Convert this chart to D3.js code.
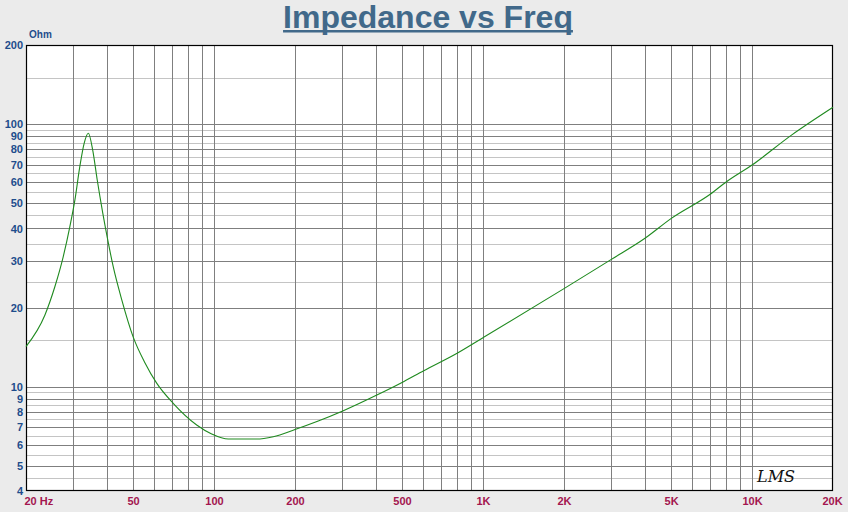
<!DOCTYPE html>
<html><head><meta charset="utf-8">
<script src="https://cdn.jsdelivr.net/npm/d3@7"></script>
<style>
html,body{margin:0;padding:0;background:#ebebeb;}
svg{display:block;}
</style></head>
<body>
<svg id="chart" width="848" height="512"></svg>
<script>
// Data
const freqHz = [20, 23.5, 25.6, 27.5, 29.1, 30.4, 31.7, 32.9, 34.1, 35.4, 36.8, 38.6, 40.5, 42.2, 45.4, 50, 55.4, 61.2, 70.5, 86.2, 98, 113, 144, 166, 200, 244, 301, 403, 498, 602, 801, 1000, 2000, 3000, 4000, 5012, 6990, 8036, 10000, 14060, 20000];
const impedanceOhm = [14.2, 18.7, 24.0, 31.2, 40.6, 51.4, 68.8, 84.4, 92.2, 79.6, 61.2, 45.7, 35.1, 28.6, 21.4, 15.5, 12.3, 10.3, 8.63, 7.14, 6.6, 6.31, 6.31, 6.44, 6.86, 7.39, 8.07, 9.28, 10.34, 11.49, 13.39, 15.35, 23.6, 30.5, 36.7, 43.7, 54.0, 60.3, 69.8, 90.9, 115.8];
const yTickValues = [4, 5, 6, 7, 8, 9, 10, 20, 30, 40, 50, 60, 70, 80, 90, 100, 200];
const yMinorGrid = [4.5, 5.5, 6.5, 7.5, 8.5, 9.5, 15, 25, 35, 45, 55, 65, 75, 85, 95, 150];
const xGridValues = [30, 40, 50, 60, 70, 80, 90, 100, 200, 300, 400, 500, 600, 700, 800, 900, 1000, 2000, 3000, 4000, 5000, 6000, 7000, 8000, 9000, 10000];
const xTickValues = [20, 50, 100, 200, 500, 1000, 2000, 5000, 10000, 20000];
const xTickLabels = ["20 Hz", "50", "100", "200", "500", "1K", "2K", "5K", "10K", "20K"];

const svg = d3.select("#chart");
const L = 26, R = 833, T = 45, B = 491;
const x = d3.scaleLog().domain([20, 20000]).range([L, R]);
const y = d3.scaleLog().domain([4, 200]).range([B, T]);

svg.append("rect").attr("x", L).attr("y", T).attr("width", R - L).attr("height", B - T).attr("fill", "#ffffff");

// minor horizontal grid
svg.append("g").selectAll("line").data(yMinorGrid).join("line")
  .attr("x1", L).attr("x2", R)
  .attr("y1", d => Math.round(y(d)) + 0.5).attr("y2", d => Math.round(y(d)) + 0.5)
  .attr("stroke", "#c4c4c4").attr("stroke-width", 1);
// major horizontal grid
svg.append("g").selectAll("line").data(yTickValues.filter(d => d > 4 && d < 200)).join("line")
  .attr("x1", L).attr("x2", R)
  .attr("y1", d => Math.round(y(d)) + 0.5).attr("y2", d => Math.round(y(d)) + 0.5)
  .attr("stroke", "#7f7f7f").attr("stroke-width", 1);
// vertical grid
svg.append("g").selectAll("line").data(xGridValues).join("line")
  .attr("y1", T).attr("y2", B)
  .attr("x1", d => Math.round(x(d)) + 0.5).attr("x2", d => Math.round(x(d)) + 0.5)
  .attr("stroke", "#7f7f7f").attr("stroke-width", 1);

// border
svg.append("rect").attr("x", L + 0.5).attr("y", T + 0.5).attr("width", R - L - 1).attr("height", B - T - 1)
  .attr("fill", "none").attr("stroke", "#000").attr("stroke-width", 1.2);

// curve
const line = d3.line().x((d, i) => x(freqHz[i])).y(d => y(d)).curve(d3.curveMonotoneX);
svg.append("path").datum(impedanceOhm).attr("d", line)
  .attr("fill", "none").attr("stroke", "#1f8a1f").attr("stroke-width", 1.1);

// y axis labels
const yAxis = d3.axisLeft(y).tickValues(yTickValues).tickFormat(d3.format("d")).tickSize(0).tickPadding(3);
const gy = svg.append("g").attr("transform", `translate(${L},0)`).call(yAxis);
gy.select(".domain").remove();
gy.selectAll("text").attr("fill", "#1e4d8c").attr("font-family", "Liberation Sans, Arial, sans-serif")
  .attr("font-weight", "bold").attr("font-size", 11);

svg.append("text").attr("x", 29).attr("y", 38).text("Ohm")
  .attr("fill", "#1e4d8c").attr("font-family", "Liberation Sans, Arial, sans-serif")
  .attr("font-weight", "bold").attr("font-size", 10);

// x axis labels
const xAxis = d3.axisBottom(x).tickValues(xTickValues).tickFormat((d, i) => xTickLabels[i]).tickSize(0).tickPadding(6);
const gx = svg.append("g").attr("transform", `translate(0,${B})`).call(xAxis);
gx.select(".domain").remove();
gx.selectAll("text").attr("fill", "#a3164f").attr("font-family", "Liberation Sans, Arial, sans-serif")
  .attr("font-weight", "bold").attr("font-size", 11)
  .attr("text-anchor", (d, i) => i === 0 ? "start" : "middle")
  .attr("dx", (d, i) => i === 0 ? -2 : (i === xTickValues.length - 1 ? -1 : 0));

// title
const title = svg.append("text").attr("x", 428).attr("y", 28).attr("text-anchor", "middle")
  .text("Impedance vs Freq").attr("fill", "#41698a")
  .attr("font-family", "Liberation Sans, Arial, sans-serif").attr("font-weight", "bold").attr("font-size", 32);
const bb = title.node().getBBox();
svg.append("rect").attr("x", bb.x).attr("y", 30).attr("width", bb.width).attr("height", 2.5).attr("fill", "#41698a");

// LMS logo
svg.append("text").attr("x", 757).attr("y", 482).text("LMS")
  .attr("font-family", "DejaVu Serif, serif").attr("font-style", "italic").attr("font-size", 17)
  .attr("fill", "#111").attr("textLength", 38).attr("lengthAdjust", "spacingAndGlyphs");
</script>
</body></html>
